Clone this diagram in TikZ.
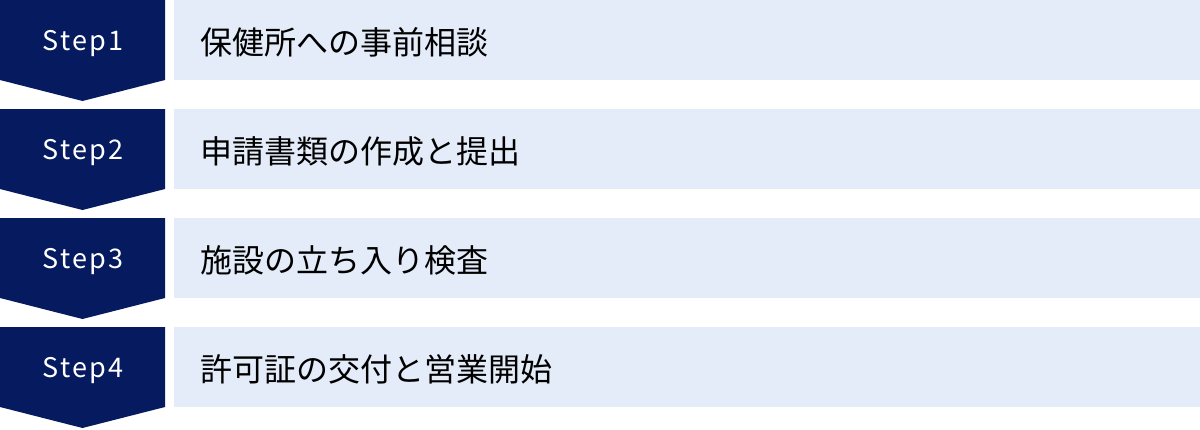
\documentclass[tikz,border=0pt]{standalone}
\usepackage{fontspec}
\setmainfont{Noto Sans CJK JP}
\newfontfamily\stepfont[LetterSpace=8]{Noto Sans CJK JP}
\definecolor{stepnavy}{HTML}{061A60}
\definecolor{barblue}{HTML}{E5ECF9}
\begin{document}
\begin{tikzpicture}
  [x=1pt,y=-1pt,
   titlebar/.style={fill=barblue,draw=none,inner sep=0pt,
     minimum width=1026pt,minimum height=80pt},
   steplabel/.style={text=white,font=\stepfont\fontsize{27}{27}\selectfont,inner sep=0pt},
   titlelabel/.style={text=black,font=\fontsize{32}{32}\selectfont,inner sep=0pt,anchor=west}]
  \useasboundingbox (0,0) rectangle (1200,429);

  \fill[stepnavy] (0,0) -- (165,0) -- (165,80) -- (82.5,101) -- (0,80) -- cycle;
  \fill[stepnavy] (0,109) -- (165,109) -- (165,189) -- (82.5,210) -- (0,189) -- cycle;
  \fill[stepnavy] (0,218) -- (165,218) -- (165,298) -- (82.5,319) -- (0,298) -- cycle;
  \fill[stepnavy] (0,327) -- (165,327) -- (165,407) -- (82.5,428) -- (0,407) -- cycle;

  \node[titlebar] (bar1) at (687,40) {};
  \node[titlebar] (bar2) at (687,149) {};
  \node[titlebar] (bar3) at (687,258) {};
  \node[titlebar] (bar4) at (687,367) {};

  \node[steplabel] (step1) at (83,43.5) {Step1};
  \node[steplabel] (step2) at (83,152.5) {Step2};
  \node[steplabel] (step3) at (83,261.5) {Step3};
  \node[steplabel] (step4) at (83,370.5) {Step4};

  \node[titlelabel] (title1) at (200,42.5) {保健所への事前相談};
  \node[titlelabel] (title2) at (200,151.5) {申請書類の作成と提出};
  \node[titlelabel] (title3) at (200,260.5) {施設の立ち入り検査};
  \node[titlelabel] (title4) at (200,369.5) {許可証の交付と営業開始};

\end{tikzpicture}
\end{document}
